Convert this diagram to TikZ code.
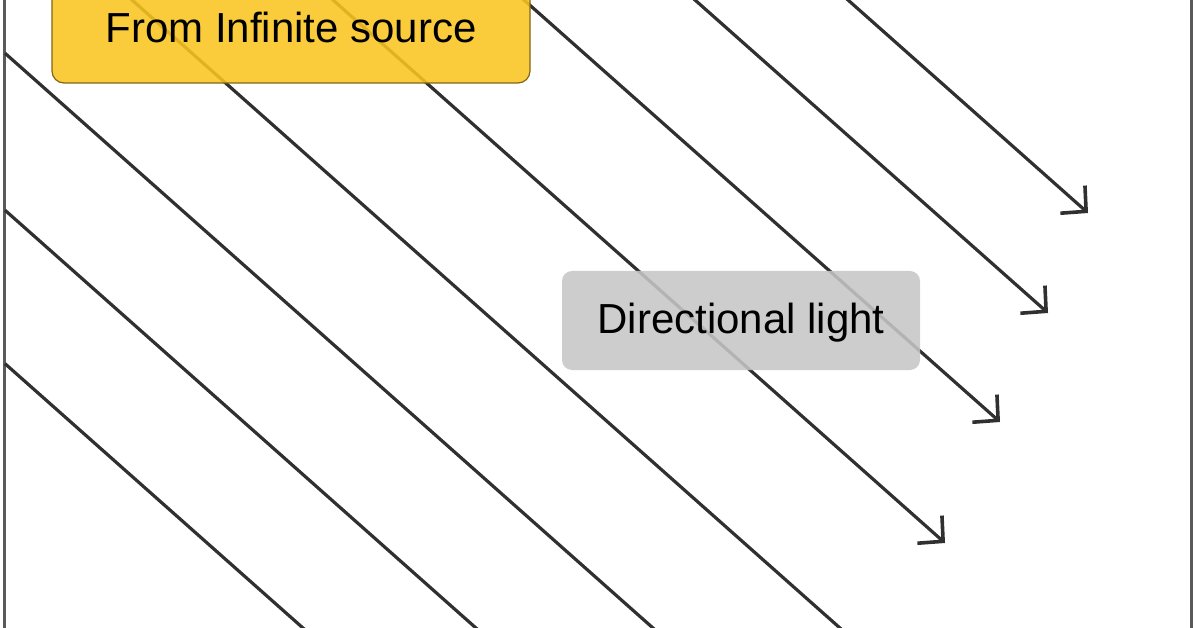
\documentclass[tikz,border=0pt]{standalone}
\usepackage{fontspec}
\setmainfont{Liberation Sans}
\usetikzlibrary{arrows.meta}

\definecolor{rayGray}{RGB}{48,48,48}
\definecolor{frameGray}{RGB}{90,90,90}
\definecolor{srcYellow}{RGB}{249,197,32}
\definecolor{srcEdge}{RGB}{130,100,20}
\definecolor{tagGray}{RGB}{198,198,198}

\begin{document}
\begin{tikzpicture}[x=1pt, y=-1pt,
    ray/.style={draw=rayGray, line width=3.2pt},
    rayhead/.style={ray, -{Straight Barb[length=18pt, width=37pt, line width=3.6pt]}},
    labelbox/.style={rectangle, rounded corners=12pt,
                     fill opacity=0.88, text opacity=1,
                     font=\fontsize{42}{50}\selectfont,
                     inner sep=0pt, outer sep=0pt, anchor=center},
    ]
\useasboundingbox (0,0) rectangle (1196,628);
\clip (0,0) rectangle (1196,628);

% frame sides
\coordinate (frame-l-top) at (4,-10);
\coordinate (frame-l-bot) at (4,640);
\coordinate (frame-r-top) at (1191,-10);
\coordinate (frame-r-bot) at (1191,640);
\draw[frameGray, line width=3pt] (frame-l-top) -- (frame-l-bot);
\draw[frameGray, line width=3pt] (frame-r-top) -- (frame-r-bot);

% rays leaving the left side
\foreach \n/\xo in {1/-405, 2/-232, 3/-55} {
  \coordinate (ray\n-in) at (5, {(5-\xo)*0.887});
  \coordinate (ray\n-out) at ({\xo+700/0.887}, 700);
  \draw[ray] (ray\n-in) -- (ray\n-out);
}
% ray crossing the whole picture
\coordinate (ray4-in) at ({132-20/0.887}, -20);
\coordinate (ray4-out) at ({132+700/0.887}, 700);
\draw[ray] (ray4-in) -- (ray4-out);
% rays with heads
\foreach \n/\xo/\tx/\ty in {5/333/945/543, 6/524/1000/422, 7/695/1048/313, 8/848/1088/213} {
  \coordinate (ray\n-in) at ({\xo-20/0.887}, -20);
  \coordinate (ray\n-tip) at (\tx, \ty);
  \draw[rayhead] (ray\n-in) -- (ray\n-tip);
}

\node[labelbox, fill=srcYellow, draw=srcEdge, line width=1.2pt,
      minimum width=478pt, minimum height=112pt] (source) at (291,27) {From Infinite source};
\node[labelbox, fill=tagGray, rounded corners=10pt, text depth=4pt,
      minimum width=358pt, minimum height=99pt] (light) at (741,320.5) {Directional light};
%\node[labelbox, fill=tagGray] at (741,420) {Point light};
\end{tikzpicture}
\end{document}
